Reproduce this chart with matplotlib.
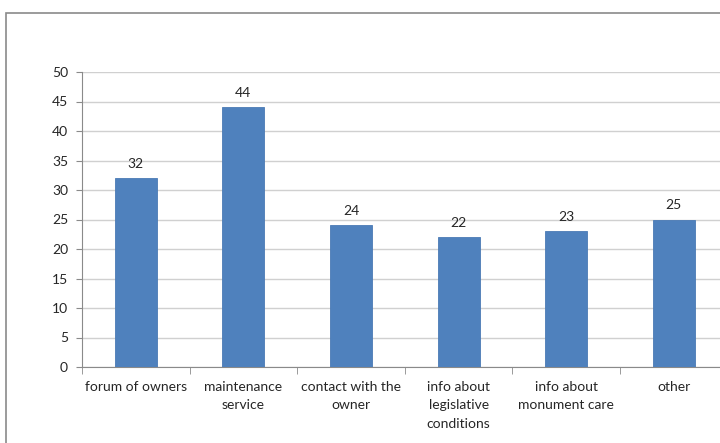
import matplotlib.pyplot as plt
from matplotlib.patches import Rectangle

categories = ["forum of owners", "maintenance\nservice", "contact with the\nowner",
              "info about\nlegislative\nconditions", "info about\nmonument care", "other"]
values = [32, 44, 24, 22, 23, 25]

plt.rcParams['font.family'] = ['Lato', 'DejaVu Sans']

fig = plt.figure(figsize=(7.2, 4.43), dpi=100)
# outer chart frame (runs off the right and bottom like the original)
fig.patches.append(Rectangle((6 / 720, -0.2), 1.2, (443 - 12.5) / 443 + 0.2,
                             transform=fig.transFigure, fill=False,
                             edgecolor="#8a8a8a", linewidth=1.2))

ax = fig.add_axes([82 / 720, (443 - 367) / 443, 645.6 / 720, 295 / 443])
x = list(range(len(values)))
bars = ax.bar(x, values, width=0.39, color="#4F81BD", edgecolor="#4A7AB5",
              linewidth=0.6, zorder=3)
for xi, v in zip(x, values):
    ax.annotate(str(v), (xi, v), xytext=(0, 6), textcoords="offset points",
                ha="center", va="bottom", fontsize=10, color="#262626")

ax.set_xlim(-0.5, len(values) - 0.5)
ax.set_ylim(0, 50)
ax.set_yticks(range(0, 51, 5))
ax.yaxis.grid(True, color="#d0d0d0", linewidth=1.0, zorder=0)
ax.tick_params(axis="y", length=4, color="#8a8a8a", labelsize=10,
               labelcolor="#262626", pad=6)

ax.set_xticks(x)
ax.set_xticklabels(categories, fontsize=10, color="#262626", linespacing=1.65)
ax.set_xticks([i - 0.5 for i in range(len(values) + 1)], minor=True)
ax.tick_params(axis="x", which="major", length=0, pad=10)
ax.tick_params(axis="x", which="minor", length=5, color="#8a8a8a")

for side in ["top", "right"]:
    ax.spines[side].set_visible(False)
ax.spines["left"].set_color("#8a8a8a")
ax.spines["bottom"].set_color("#8a8a8a")

fig.savefig("out.png", dpi=100)
